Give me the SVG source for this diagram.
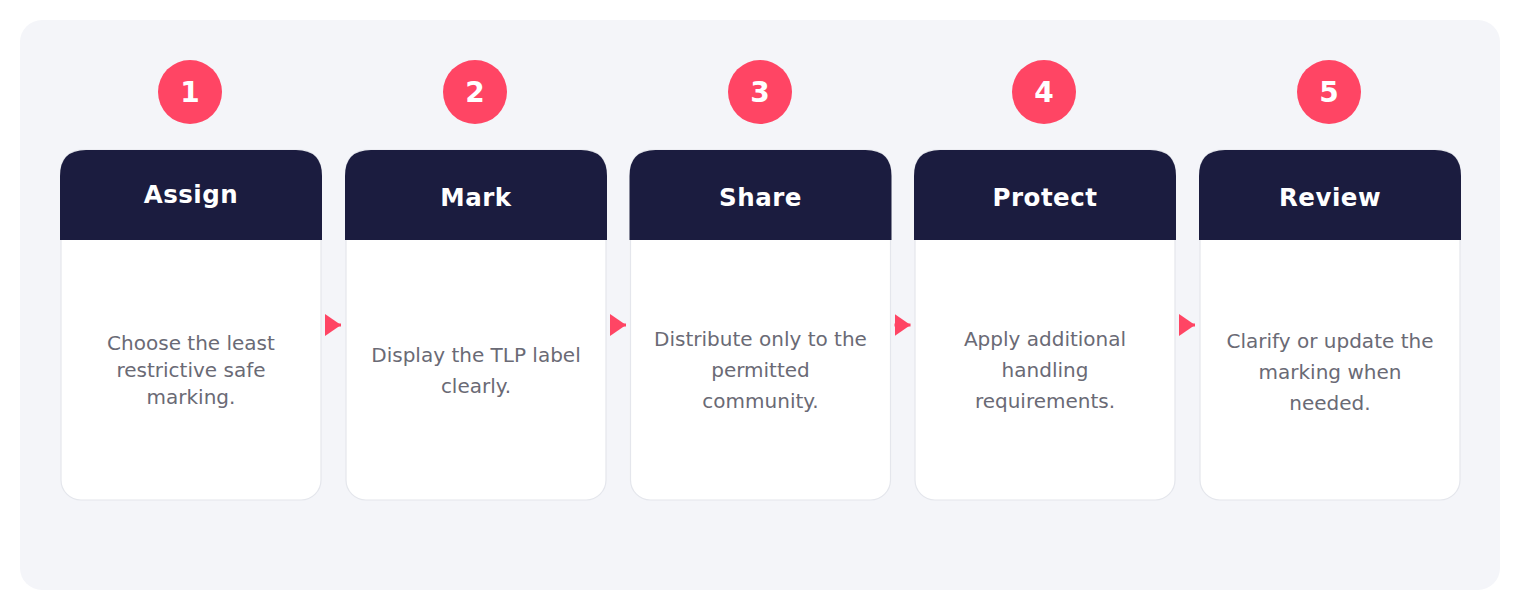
<svg xmlns="http://www.w3.org/2000/svg" width="1520" height="610" viewBox="0 0 1520 610">
<defs>
<style>
.bg{fill:#f4f5f9}
.body{fill:#ffffff;stroke:#e4e6ec;stroke-width:1.2}
.head{fill:#1b1c3f}
.num{fill:#ff4564}
.numt{font-family:"DejaVu Sans",sans-serif;font-weight:bold;font-size:28px;fill:#ffffff;text-anchor:middle}
.title{font-family:"DejaVu Sans",sans-serif;font-weight:bold;font-size:24.5px;letter-spacing:0.5px;fill:#ffffff;text-anchor:middle}
.desc{font-family:"DejaVu Sans",sans-serif;font-size:20px;fill:#6a6a75;text-anchor:middle}
.conn{stroke:#ff4564;stroke-width:3;fill:none}
</style>
<marker id="ah" markerWidth="16" markerHeight="22" refX="16" refY="11" orient="auto" markerUnits="userSpaceOnUse">
<path d="M0,0 L16,11 L0,22 Z" fill="#ff4564"/>
</marker>
</defs>
<rect width="1520" height="610" fill="#ffffff"/>
<rect class="bg" x="20" y="20" width="1480" height="570" rx="22"/>

<g id="step1">
<circle class="num" cx="190" cy="92" r="32"/>
<text class="numt" x="190" y="102">1</text>
<rect class="body" x="61" y="150" width="260" height="350" rx="20"/>
<path class="head" d="M60,240 V176 Q60,150 86,150 H296 Q322,150 322,176 V240 Z"/>
<text class="title" x="191" y="203">Assign</text>
<text class="desc" x="191" y="350">Choose the least</text>
<text class="desc" x="191" y="377">restrictive safe</text>
<text class="desc" x="191" y="404">marking.</text>
</g>

<g id="step2">
<circle class="num" cx="475" cy="92" r="32"/>
<text class="numt" x="475" y="102">2</text>
<rect class="body" x="346" y="150" width="260" height="350" rx="20"/>
<path class="head" d="M345,240 V176 Q345,150 371,150 H581 Q607,150 607,176 V240 Z"/>
<text class="title" x="476" y="206">Mark</text>
<text class="desc" x="476" y="362">Display the TLP label</text>
<text class="desc" x="476" y="393">clearly.</text>
</g>

<g id="step3">
<circle class="num" cx="760" cy="92" r="32"/>
<text class="numt" x="760" y="102">3</text>
<rect class="body" x="630.5" y="150" width="260" height="350" rx="20"/>
<path class="head" d="M629.5,240 V176 Q629.5,150 655.5,150 H865.5 Q891.5,150 891.5,176 V240 Z"/>
<text class="title" x="760.5" y="206">Share</text>
<text class="desc" x="760.5" y="346">Distribute only to the</text>
<text class="desc" x="760.5" y="377">permitted</text>
<text class="desc" x="760.5" y="408">community.</text>
</g>

<g id="step4">
<circle class="num" cx="1044" cy="92" r="32"/>
<text class="numt" x="1044" y="102">4</text>
<rect class="body" x="915" y="150" width="260" height="350" rx="20"/>
<path class="head" d="M914,240 V176 Q914,150 940,150 H1150 Q1176,150 1176,176 V240 Z"/>
<text class="title" x="1045" y="206">Protect</text>
<text class="desc" x="1045" y="346">Apply additional</text>
<text class="desc" x="1045" y="377">handling</text>
<text class="desc" x="1045" y="408">requirements.</text>
</g>

<g id="step5">
<circle class="num" cx="1329" cy="92" r="32"/>
<text class="numt" x="1329" y="102">5</text>
<rect class="body" x="1200" y="150" width="260" height="350" rx="20"/>
<path class="head" d="M1199,240 V176 Q1199,150 1225,150 H1435 Q1461,150 1461,176 V240 Z"/>
<text class="title" x="1330" y="206">Review</text>
<text class="desc" x="1330" y="348">Clarify or update the</text>
<text class="desc" x="1330" y="379">marking when</text>
<text class="desc" x="1330" y="410">needed.</text>
</g>

<g id="connectors">
<line class="conn" x1="325" y1="325" x2="341" y2="325" marker-end="url(#ah)"/>
<line class="conn" x1="610" y1="325" x2="626" y2="325" marker-end="url(#ah)"/>
<line class="conn" x1="894.5" y1="325" x2="910.5" y2="325" marker-end="url(#ah)"/>
<line class="conn" x1="1179" y1="325" x2="1195" y2="325" marker-end="url(#ah)"/>
</g>
</svg>
